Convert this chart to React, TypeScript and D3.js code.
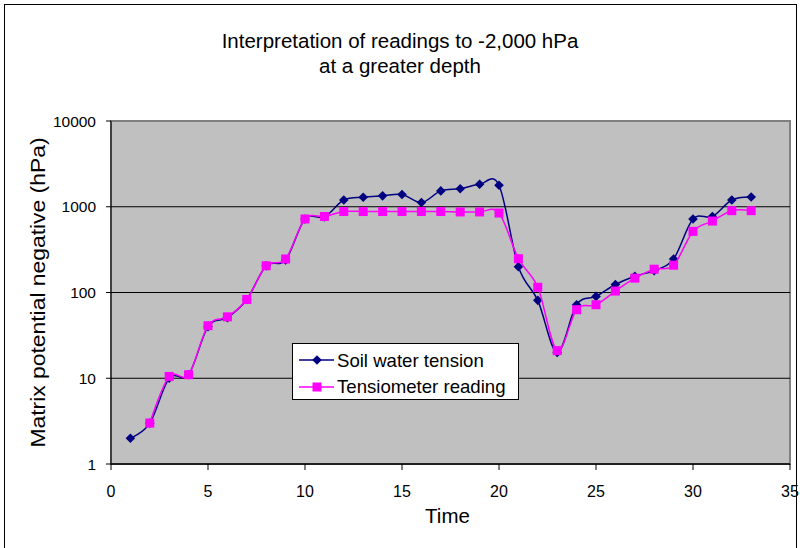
import React from "react";
import * as d3 from "d3";

const titleLines = ["Interpretation of readings to -2,000 hPa", "at a greater depth"];
const xTitle = "Time";
const yTitle = "Matrix potential negative (hPa)";
const seriesNames = ["Soil water tension", "Tensiometer reading"];

const soilX = [1, 2, 3, 4, 5, 6, 7, 8, 9, 10, 11, 12, 13, 14, 15, 16, 17, 18, 19, 20, 21, 22, 23, 24, 25, 26, 27, 28, 29, 30, 31, 32, 33];
const soilY = [2, 3, 10, 11, 40, 51, 83, 205, 240, 720, 760, 1200, 1290, 1340, 1390, 1120, 1530, 1620, 1830, 1780, 200, 81, 20, 72, 90, 124, 155, 180, 246, 720, 770, 1200, 1300];

const tensX = [2, 3, 4, 5, 6, 7, 8, 9, 10, 11, 12, 13, 14, 15, 16, 17, 18, 19, 20, 21, 22, 23, 24, 25, 26, 27, 28, 29, 30, 31, 32, 33];
const tensY = [3, 10.5, 11, 41, 52, 83, 205, 246, 720, 770, 880, 880, 880, 880, 880, 880, 870, 870, 845, 248, 115, 21, 63, 72, 104, 147, 187, 208, 516, 681, 900, 900];

const xTicks = [0, 5, 10, 15, 20, 25, 30, 35];
const yTicks = [1, 10, 100, 1000, 10000];
const gridValues = [10, 100, 1000];

const W = 800;
const H = 548;
const plot = { left: 111, right: 790, top: 121, bottom: 464 };
const FONT = "Liberation Sans, Arial, sans-serif";
const NAVY = "#000080";
const MAGENTA = "#FF00FF";

export default function App() {
  const x = d3.scaleLinear().domain([0, 35]).range([plot.left, plot.right]);
  const y = d3.scaleLog().domain([1, 10000]).range([plot.bottom, plot.top]);

  const line = d3
    .line<[number, number]>()
    .x((d) => x(d[0]))
    .y((d) => y(d[1]))
    .curve(d3.curveCatmullRom.alpha(0));

  const soil: [number, number][] = soilX.map((v, i) => [v, soilY[i]]);
  const tens: [number, number][] = tensX.map((v, i) => [v, tensY[i]]);

  const diamond = (cx: number, cy: number, r: number) =>
    `M${cx},${cy - r}L${cx + r},${cy}L${cx},${cy + r}L${cx - r},${cy}Z`;

  const lg = { x: 292, y: 343, w: 226, h: 56 };

  return (
    <div style={{ position: "fixed", left: 0, top: 0 }}>
      <svg width={W} height={H} style={{ display: "block", background: "#fff" }}>
        <rect x={4.5} y={4.5} width={792} height={H + 10} fill="#fff" stroke="#000" strokeWidth={1} />
        {titleLines.map((t, i) => (
          <text key={i} x={400} y={48 + i * 25} textAnchor="middle" fontFamily={FONT} fontSize={20.5} fill="#000">
            {t}
          </text>
        ))}
        <rect
          x={plot.left}
          y={plot.top}
          width={plot.right - plot.left}
          height={plot.bottom - plot.top}
          fill="#C0C0C0"
          stroke="#808080"
          strokeWidth={2}
        />
        {gridValues.map((g) => (
          <line key={g} x1={plot.left} x2={plot.right} y1={y(g)} y2={y(g)} stroke="#000" strokeWidth={1} />
        ))}
        {/* axes */}
        <line x1={plot.left} x2={plot.left} y1={plot.top} y2={plot.bottom} stroke="#000" strokeWidth={1} />
        <line x1={plot.left} x2={plot.right} y1={plot.bottom} y2={plot.bottom} stroke="#000" strokeWidth={1.5} />
        {yTicks.map((t) => (
          <g key={t}>
            <line x1={plot.left - 5} x2={plot.left} y1={y(t)} y2={y(t)} stroke="#000" />
            <text x={plot.left - 15} y={y(t) + 5.5} textAnchor="end" fontFamily={FONT} fontSize={15.5} fill="#000">
              {String(t)}
            </text>
          </g>
        ))}
        {xTicks.map((t) => (
          <g key={t}>
            <line x1={x(t)} x2={x(t)} y1={plot.bottom} y2={plot.bottom + 6} stroke="#000" />
            <text x={x(t)} y={plot.bottom + 33} textAnchor="middle" fontFamily={FONT} fontSize={16} fill="#000">
              {String(t)}
            </text>
          </g>
        ))}
        <text x={(plot.left + plot.right) / 2 - 3} y={523} textAnchor="middle" fontFamily={FONT} fontSize={20.5} fill="#000">
          {xTitle}
        </text>
        <text
          transform={`translate(45, ${(plot.top + plot.bottom) / 2}) rotate(-90)`}
          textAnchor="middle"
          fontFamily={FONT}
          fontSize={21}
          textLength={310}
          lengthAdjust="spacingAndGlyphs"
          fill="#000"
        >
          {yTitle}
        </text>
        {/* series */}
        <path d={line(soil) ?? ""} fill="none" stroke={NAVY} strokeWidth={1.5} />
        {soil.map((d, i) => (
          <path key={i} d={diamond(x(d[0]), y(d[1]), 4.8)} fill={NAVY} />
        ))}
        <path d={line(tens) ?? ""} fill="none" stroke={MAGENTA} strokeWidth={1.5} />
        {tens.map((d, i) => (
          <rect key={i} x={x(d[0]) - 4.5} y={y(d[1]) - 4.5} width={9} height={9} fill={MAGENTA} />
        ))}
        {/* legend */}
        <rect x={lg.x + 0.5} y={lg.y + 0.5} width={lg.w} height={lg.h} fill="#fff" stroke="#000" strokeWidth={1} />
        <line x1={299} x2={334} y1={360} y2={360} stroke={NAVY} strokeWidth={1.5} />
        <path d={diamond(317, 360, 4.8)} fill={NAVY} />
        <text x={337} y={366.5} fontFamily={FONT} fontSize={18.6} fill="#000">
          {seriesNames[0]}
        </text>
        <line x1={299} x2={334} y1={387} y2={387} stroke={MAGENTA} strokeWidth={1.5} />
        <rect x={312.5} y={382.5} width={9} height={9} fill={MAGENTA} />
        <text x={337} y={393} fontFamily={FONT} fontSize={18.6} fill="#000">
          {seriesNames[1]}
        </text>
      </svg>
    </div>
  );
}
